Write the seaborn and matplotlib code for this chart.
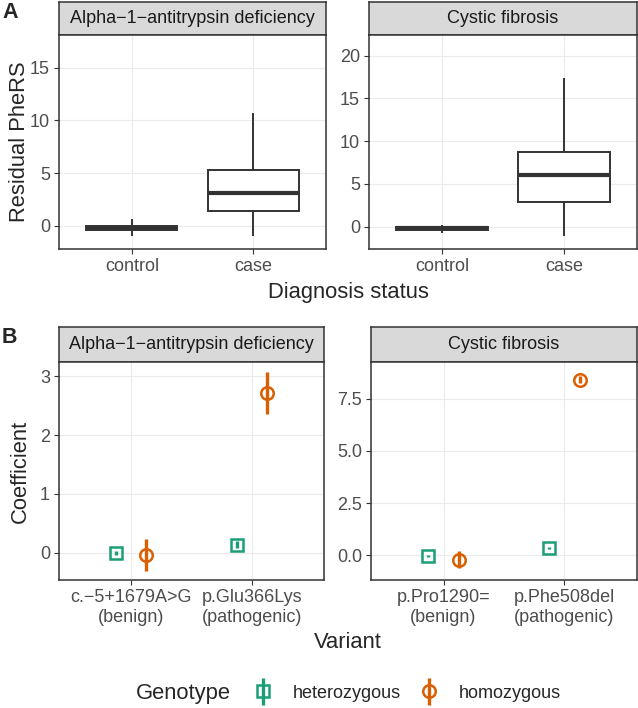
#!/usr/bin/env python3
"""Residual PheRS by diagnosis status (A) and variant coefficients by genotype (B)."""

import matplotlib

matplotlib.use("Agg")
import matplotlib.pyplot as plt
import numpy as np
import pandas as pd
import seaborn as sns
from matplotlib.legend_handler import HandlerErrorbar

sns.set_theme(style="white")
plt.rcParams["font.family"] = ["Liberation Sans", "DejaVu Sans"]

# ---- data -------------------------------------------------------------------
diseases = ["Alpha\u22121\u2212antitrypsin deficiency", "Cystic fibrosis"]
status = ["control", "case"]

# Panel A: box summaries
# (lower whisker, Q1, median, Q3, upper whisker)
aatd_control = [-1.0, -0.4, -0.22, -0.05, 0.62]
aatd_case = [-0.95, 1.4, 3.13, 5.29, 10.73]
cf_control = [-0.75, -0.38, -0.2, -0.03, 0.25]
cf_case = [-1.1, 2.85, 6.0, 8.7, 17.4]

# Panel B: coefficient estimates with intervals
aatd_variants = ["c.\u22125+1679A>G\n(benign)", "p.Glu366Lys\n(pathogenic)"]
cf_variants = ["p.Pro1290=\n(benign)", "p.Phe508del\n(pathogenic)"]
genotypes = ["heterozygous", "homozygous"]

aatd_het_est = [0.0, 0.14]
aatd_het_lo = [-0.04, 0.08]
aatd_het_hi = [0.04, 0.2]
aatd_hom_est = [-0.03, 2.71]
aatd_hom_lo = [-0.3, 2.36]
aatd_hom_hi = [0.23, 3.07]

cf_het_est = [-0.02, 0.35]
cf_het_lo = [-0.07, 0.29]
cf_het_hi = [0.03, 0.41]
cf_hom_est = [-0.22, 8.42]
cf_hom_lo = [-0.6, 8.27]
cf_hom_hi = [0.2, 8.57]

# ---- style ------------------------------------------------------------------
W, H = 638, 708
GREEN, ORANGE = "#1B9E77", "#D95F02"
BORDER = "#333333"
GRID = "#EBEBEB"
TICK_TXT = "#4D4D4D"
TICK_SIZE = 13
TITLE_SIZE = 15.8

fig = plt.figure(figsize=(W / 100, H / 100), dpi=100)


def rect(x0, y0, x1, y1):
    return [x0 / W, 1 - y1 / H, (x1 - x0) / W, (y1 - y0) / H]


def panel(x0, x1, y_strip, y0, y1, title):
    strip = fig.add_axes(rect(x0, y_strip, x1, y0))
    strip.set_facecolor("#D9D9D9")
    strip.set_xticks([])
    strip.set_yticks([])
    for s in strip.spines.values():
        s.set_color(BORDER)
        s.set_linewidth(1.1)
    strip.text(0.5, 0.5, title, ha="center", va="center", fontsize=TICK_SIZE,
               color="#1A1A1A", transform=strip.transAxes)
    ax = fig.add_axes(rect(x0, y0, x1, y1))
    ax.set_facecolor("white")
    return ax


def finish(ax, yticks, ylim, xlabels, ylabels=None):
    ax.set_xlim(-0.6, 1.6)
    ax.set_ylim(*ylim)
    ax.set_xticks(range(len(xlabels)))
    ax.set_xticklabels(xlabels)
    ax.set_yticks(yticks)
    if ylabels is not None:
        ax.set_yticklabels(ylabels)
    ax.set_xlabel("")
    ax.set_ylabel("")
    ax.grid(True, color=GRID, linewidth=0.8)
    ax.set_axisbelow(True)
    ax.tick_params(axis="both", length=3.5, width=0.8, color=BORDER,
                   labelsize=TICK_SIZE, labelcolor=TICK_TXT, pad=3,
                   bottom=True, left=True)
    for s in ax.spines.values():
        s.set_color(BORDER)
        s.set_linewidth(1.1)
        s.set_zorder(5)


# ---- panel A: boxplots --------------------------------------------------------
box_sets = [(aatd_control, aatd_case), (cf_control, cf_case)]
a_geom = [(59, 326), (369, 637)]
a_ylims = [(-2.2, 18.1), (-2.6, 22.42)]
a_ticks = [[0, 5, 10, 15], [0, 5, 10, 15, 20]]

for (ctrl, case), (x0, x1), ylim, yt, title in zip(box_sets, a_geom, a_ylims, a_ticks, diseases):
    ax = panel(x0, x1, 2, 35, 249, title)
    df = pd.DataFrame({
        "status": ["control"] * len(ctrl) + ["case"] * len(case),
        "value": ctrl + case,
    })
    sns.boxplot(data=df, x="status", y="value", order=status, whis=(0, 100),
                width=0.75, color="white", linecolor=BORDER, linewidth=1.4,
                fliersize=0, showcaps=False,
                medianprops=dict(linewidth=3.0, color=BORDER), ax=ax)
    finish(ax, yt, ylim, status)

# ---- panel B: point ranges ----------------------------------------------------
b_sets = [
    (aatd_variants, (aatd_het_est, aatd_het_lo, aatd_het_hi), (aatd_hom_est, aatd_hom_lo, aatd_hom_hi)),
    (cf_variants, (cf_het_est, cf_het_lo, cf_het_hi), (cf_hom_est, cf_hom_lo, cf_hom_hi)),
]
b_geom = [(59, 324), (371, 637)]
b_ylims = [(-0.46, 3.24), (-1.18, 9.26)]
b_ticks = [[0, 1, 2, 3], [0, 2.5, 5, 7.5]]
b_ticklabels = [["0", "1", "2", "3"], ["0.0", "2.5", "5.0", "7.5"]]

handles = []
for (labels, het, hom), (x0, x1), ylim, yt, ytl, title in zip(
        b_sets, b_geom, b_ylims, b_ticks, b_ticklabels, diseases):
    ax = panel(x0, x1, 327, 362, 580, title)
    base = np.arange(len(labels))
    handles = []
    for (est, lo, hi), offset, color, marker, ms in [
            (het, -0.125, GREEN, "s", 8.0),
            (hom, 0.125, ORANGE, "o", 9.0)]:
        est = np.array(est)
        err = [est - np.array(lo), np.array(hi) - est]
        h = ax.errorbar(base + offset, est, yerr=err, fmt=marker, color=color,
                        mfc="none", mec=color, mew=1.8, ms=ms,
                        elinewidth=2.4, capsize=0, zorder=3)
        handles.append(h)
    finish(ax, yt, ylim, labels, ytl)

# ---- shared labels ------------------------------------------------------------
fig.text(2 / W, 1 - 12.7 / H, "A", fontsize=15.5, fontweight="bold", ha="left", va="center")
fig.text(2 / W, 1 - 337.7 / H, "B", fontsize=15.5, fontweight="bold", ha="left", va="center")
fig.text(20 / W, 1 - 142 / H, "Residual PheRS", rotation=90, fontsize=TITLE_SIZE,
         ha="center", va="center")
fig.text(20 / W, 1 - 471 / H, "Coefficient", rotation=90, fontsize=TITLE_SIZE,
         ha="center", va="center")
fig.text(348 / W, 1 - 293 / H, "Diagnosis status", fontsize=TITLE_SIZE, ha="center", va="center")
fig.text(348 / W, 1 - 642 / H, "Variant", fontsize=TITLE_SIZE, ha="center", va="center")

# legend along the bottom
fig.text(136 / W, 1 - 693 / H, "Genotype", fontsize=TITLE_SIZE, ha="left", va="center")
fig.legend(handles, genotypes, loc="center left", bbox_to_anchor=(254 / W, 1 - 693 / H),
           ncol=2, frameon=False, fontsize=TICK_SIZE, handlelength=1.0,
           handletextpad=1.15, columnspacing=1.05, borderpad=0, borderaxespad=0,
           handler_map={type(handles[0]): HandlerErrorbar(yerr_size=0.75)})

fig.savefig("out.png", dpi=100)
